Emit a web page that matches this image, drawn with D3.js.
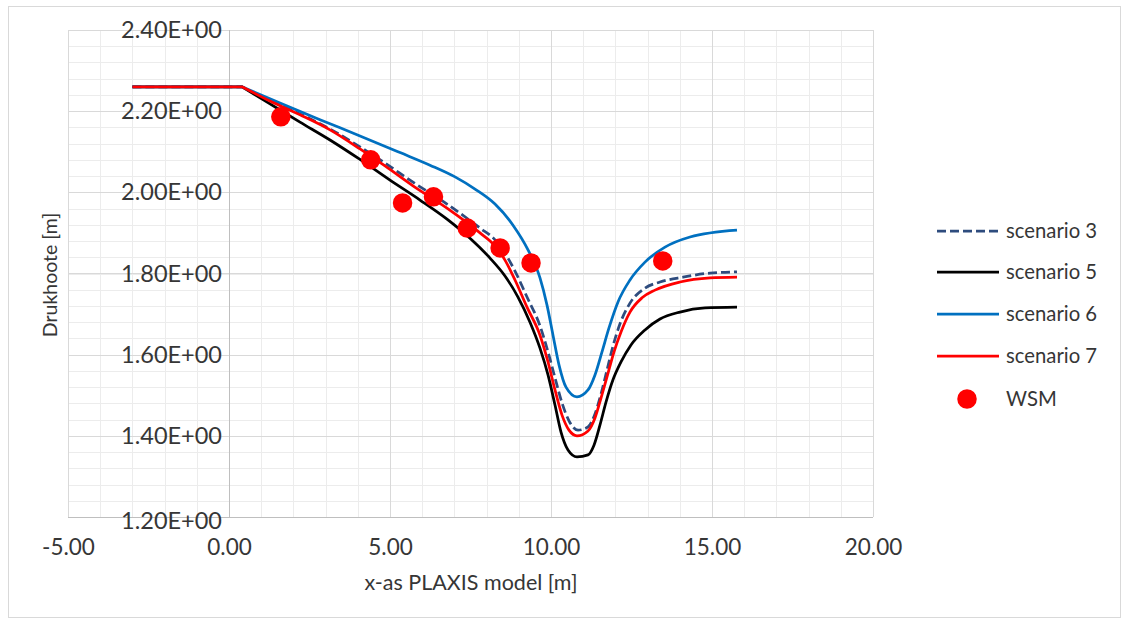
<!DOCTYPE html>
<html>
<head>
<meta charset="utf-8">
<script src="https://cdn.jsdelivr.net/npm/d3@7"></script>
<style>
  html, body { margin: 0; padding: 0; background: #fff; }
  svg { display: block; }
  text { font-family: Lato, "Open Sans", sans-serif; fill: #363636; }
</style>
</head>
<body>
<svg id="chart" width="1129" height="624"></svg>
<script>
// ---- data ----
const seriesNames = ["scenario 3", "scenario 5", "scenario 6", "scenario 7"];
const wsmName = "WSM";

const x3 = [-3.0, 0.404, 1.273, 2.205, 3.137, 4.068, 4.845, 5.714, 6.770, 7.795, 8.261, 8.571, 8.882, 9.255, 9.658, 9.907, 10.124, 10.342, 10.559, 10.839, 11.149, 11.366, 11.553, 11.739, 11.925, 12.143, 12.453, 12.919, 13.385, 14.099, 14.938, 15.776];
const y3 = [2.260, 2.260, 2.226, 2.193, 2.156, 2.112, 2.072, 2.025, 1.971, 1.912, 1.883, 1.850, 1.806, 1.742, 1.671, 1.607, 1.543, 1.481, 1.437, 1.414, 1.422, 1.454, 1.503, 1.562, 1.621, 1.676, 1.727, 1.764, 1.779, 1.791, 1.801, 1.804];

const x5 = [-3.0, 0.404, 1.273, 2.205, 3.137, 4.068, 5.000, 5.932, 6.770, 7.484, 8.106, 8.571, 8.975, 9.348, 9.658, 9.907, 10.124, 10.311, 10.528, 10.807, 11.149, 11.335, 11.522, 11.708, 11.925, 12.174, 12.484, 12.919, 13.385, 14.006, 14.783, 15.776];
const y5 = [2.260, 2.260, 2.218, 2.173, 2.129, 2.081, 2.030, 1.981, 1.934, 1.887, 1.838, 1.794, 1.742, 1.680, 1.616, 1.550, 1.476, 1.409, 1.365, 1.348, 1.353, 1.377, 1.427, 1.483, 1.538, 1.582, 1.624, 1.661, 1.688, 1.705, 1.715, 1.717];

const x6 = [-3.0, 0.404, 1.584, 2.826, 4.068, 5.311, 6.242, 7.019, 7.640, 8.261, 8.820, 9.286, 9.658, 9.876, 10.062, 10.248, 10.466, 10.807, 11.149, 11.366, 11.584, 11.801, 12.081, 12.453, 12.919, 13.540, 14.317, 15.776];
const y6 = [2.260, 2.260, 2.220, 2.179, 2.139, 2.098, 2.067, 2.038, 2.008, 1.971, 1.919, 1.858, 1.789, 1.722, 1.648, 1.575, 1.520, 1.496, 1.513, 1.550, 1.607, 1.666, 1.730, 1.784, 1.828, 1.865, 1.890, 1.907];

const x7 = [-3.0, 0.404, 1.273, 2.205, 3.137, 4.068, 4.845, 5.714, 6.770, 7.795, 8.261, 8.571, 8.882, 9.255, 9.658, 9.907, 10.124, 10.342, 10.559, 10.807, 11.149, 11.366, 11.553, 11.739, 11.957, 12.174, 12.453, 12.826, 13.230, 14.006, 14.938, 15.776];
const y7 = [2.260, 2.260, 2.225, 2.191, 2.154, 2.107, 2.065, 2.016, 1.961, 1.900, 1.868, 1.833, 1.784, 1.717, 1.648, 1.582, 1.513, 1.451, 1.414, 1.400, 1.412, 1.444, 1.493, 1.545, 1.607, 1.656, 1.705, 1.740, 1.759, 1.779, 1.789, 1.791];

const wsmX = [1.61, 4.40, 5.39, 6.35, 7.40, 8.42, 9.38, 13.47];
const wsmY = [2.186, 2.080, 1.974, 1.989, 1.912, 1.863, 1.826, 1.831];

const xTicks = [-5, 0, 5, 10, 15, 20];
const yTicks = [1.2, 1.4, 1.6, 1.8, 2.0, 2.2, 2.4];
const xTitle = "x-as PLAXIS model [m]";
const yTitle = "Drukhoote [m]";

// ---- layout ----
const svg = d3.select("#chart");
const plot = { left: 68, right: 873, top: 30, bottom: 517 };
const x = d3.scaleLinear().domain([-5, 20]).range([plot.left, plot.right]);
const y = d3.scaleLinear().domain([1.2, 2.4]).range([plot.bottom, plot.top]);

// chart border
svg.append("rect").attr("x", 8.5).attr("y", 6.5).attr("width", 1112).attr("height", 611)
  .attr("fill", "#fff").attr("stroke", "#d9d9d9").attr("stroke-width", 1);

// minor grid
const g = svg.append("g");
g.selectAll("line.mx").data(d3.range(-5, 20.001, 1)).join("line")
  .attr("x1", d => Math.round(x(d)) + 0.5).attr("x2", d => Math.round(x(d)) + 0.5)
  .attr("y1", plot.top).attr("y2", plot.bottom).attr("stroke", "#ececec");
g.selectAll("line.my").data(d3.range(0, 31).map(i => 1.2 + i * 0.04)).join("line")
  .attr("y1", d => Math.round(y(d)) + 0.5).attr("y2", d => Math.round(y(d)) + 0.5)
  .attr("x1", plot.left).attr("x2", plot.right).attr("stroke", "#ececec");
// major grid
g.selectAll("line.Mx").data(xTicks).join("line")
  .attr("x1", d => Math.round(x(d)) + 0.5).attr("x2", d => Math.round(x(d)) + 0.5)
  .attr("y1", plot.top).attr("y2", plot.bottom).attr("stroke", "#d9d9d9");
g.selectAll("line.My").data(yTicks).join("line")
  .attr("y1", d => Math.round(y(d)) + 0.5).attr("y2", d => Math.round(y(d)) + 0.5)
  .attr("x1", plot.left).attr("x2", plot.right).attr("stroke", "#d9d9d9");

// axis lines (y-axis at x=0, x-axis at y=1.2)
svg.append("line").attr("x1", Math.round(x(0)) + 0.5).attr("x2", Math.round(x(0)) + 0.5)
  .attr("y1", plot.top).attr("y2", plot.bottom).attr("stroke", "#bfbfbf");
svg.append("line").attr("x1", plot.left).attr("x2", plot.right)
  .attr("y1", Math.round(y(1.2)) + 0.5).attr("y2", Math.round(y(1.2)) + 0.5).attr("stroke", "#bfbfbf");

// y tick labels (next to the axis at x=0)
const yAxis = d3.axisLeft(y).tickValues(yTicks).tickSize(0).tickPadding(7)
  .tickFormat(d => d.toFixed(2) + "E+00");
const ya = svg.append("g").attr("transform", `translate(${x(0)},0)`).call(yAxis);
ya.select(".domain").remove();
ya.selectAll("text").attr("font-size", 23.5).attr("fill", "#363636")
  .style("font-family", "Lato, sans-serif");
ya.selectAll(".tick").filter(d => d === 1.2).select("text").attr("dy", "0.47em");

// x tick labels
const xAxis = d3.axisBottom(x).tickValues(xTicks).tickSize(0).tickPadding(22)
  .tickFormat(d => d.toFixed(2));
const xa = svg.append("g").attr("transform", `translate(0,${plot.bottom})`).call(xAxis);
xa.select(".domain").remove();
xa.selectAll("text").attr("font-size", 22.5).attr("fill", "#363636")
  .style("font-family", "Lato, sans-serif");

// axis titles
svg.append("text").attr("x", 471).attr("y", 590).attr("text-anchor", "middle")
  .attr("font-size", 21.5).text(xTitle);
svg.append("text").attr("transform", "translate(57,275) rotate(-90)").attr("text-anchor", "middle")
  .attr("font-size", 19.5).text(yTitle);

// series: flat start drawn straight, remainder smoothed from the knee on
const flat = d3.line().x(d => x(d[0])).y(d => y(d[1]));
const smooth = d3.line().x(d => x(d[0])).y(d => y(d[1])).curve(d3.curveMonotoneX);
const series = [
  { name: seriesNames[0], xs: x3, ys: y3, color: "#2E4C7E", dash: "9,4" },
  { name: seriesNames[1], xs: x5, ys: y5, color: "#000000", dash: null },
  { name: seriesNames[2], xs: x6, ys: y6, color: "#0070C0", dash: null },
  { name: seriesNames[3], xs: x7, ys: y7, color: "#FF0000", dash: null }
];
series.forEach(s => {
  const pts = s.xs.map((v, i) => [v, s.ys[i]]);
  const d = flat(pts.slice(0, 2)) + smooth(pts.slice(1)).replace(/^M[^A-Za-z]*/, "");
  svg.append("path").attr("d", d).attr("fill", "none").attr("stroke", s.color)
    .attr("stroke-width", 2.75).attr("stroke-dasharray", s.dash)
    .attr("stroke-linejoin", "round");
});

// WSM points
svg.append("g").selectAll("circle").data(wsmX.map((v, i) => [v, wsmY[i]])).join("circle")
  .attr("cx", d => x(d[0])).attr("cy", d => y(d[1])).attr("r", 9.75).attr("fill", "#FF0000");

// legend
const leg = svg.append("g");
const rowsY = [231, 272, 314, 356];
series.forEach((s, i) => {
  leg.append("line").attr("x1", 937).attr("x2", 999).attr("y1", rowsY[i]).attr("y2", rowsY[i])
    .attr("stroke", s.color).attr("stroke-width", 2.75).attr("stroke-dasharray", s.dash);
  leg.append("text").attr("x", 1006).attr("y", rowsY[i]).attr("dy", "0.35em")
    .attr("font-size", 20.3).text(s.name);
});
leg.append("circle").attr("cx", 967).attr("cy", 399).attr("r", 9.75).attr("fill", "#FF0000");
leg.append("text").attr("x", 1006).attr("y", 399).attr("dy", "0.35em")
  .attr("font-size", 20.3).text(wsmName);
</script>
</body>
</html>
